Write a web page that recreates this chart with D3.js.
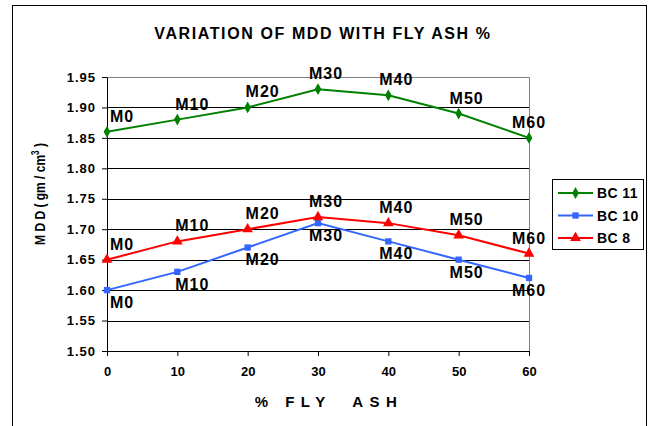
<!DOCTYPE html>
<html>
<head>
<meta charset="utf-8">
<script src="https://cdn.jsdelivr.net/npm/d3@7"></script>
<style>
  body { margin: 0; background: #fff; }
  text { font-family: "Liberation Sans", Arial, sans-serif; font-weight: bold; fill: #000; }
</style>
</head>
<body>
<div id="chart"></div>
<script>
// data
const flyAsh = [0, 10, 20, 30, 40, 50, 60];
const mixLabels = ["M0", "M10", "M20", "M30", "M40", "M50", "M60"];
const bc11 = [1.86, 1.88, 1.90, 1.93, 1.92, 1.89, 1.85];
const bc10 = [1.60, 1.63, 1.67, 1.71, 1.68, 1.65, 1.62];
const bc8 = [1.65, 1.68, 1.70, 1.72, 1.71, 1.69, 1.66];
const yTicks = [1.50, 1.55, 1.60, 1.65, 1.70, 1.75, 1.80, 1.85, 1.90, 1.95];

const series = [
    {name: "BC 11", values: bc11, color: "#008000", symbol: d3.symbolDiamond, size: 40, labelPos: "above"},
    {name: "BC 10", values: bc10, color: "#3366ff", symbol: d3.symbolSquare, size: 40, labelPos: "below"},
    {name: "BC 8", values: bc8, color: "#ff0000", symbol: d3.symbolTriangle, size: 50, labelPos: "above"}
];

const W = 649, H = 426;
const margin = {top: 77, left: 107};
const width = 422, height = 274;

const svg = d3.select("#chart").append("svg")
    .attr("width", W)
    .attr("height", H);

// outer chart frame (bottom edge runs off the picture)
svg.append("rect")
    .attr("x", 12.5).attr("y", 5.5)
    .attr("width", 634).attr("height", 440)
    .attr("fill", "none").attr("stroke", "#000").attr("stroke-width", 1);

svg.append("text")
    .attr("x", 323).attr("y", 39)
    .attr("text-anchor", "middle")
    .attr("font-size", 16)
    .attr("letter-spacing", 1.6)
    .text("VARIATION OF MDD WITH FLY ASH %");

const g = svg.append("g")
    .attr("transform", "translate(" + margin.left + "," + margin.top + ")");

const x = d3.scaleLinear().domain([0, 60]).range([0, width]);
const y = d3.scaleLinear().domain([1.5, 1.95]).range([height, 0]);

// gridlines
g.selectAll(".grid")
    .data(yTicks.filter(t => t > 1.5 && t < 1.95))
    .enter().append("line")
    .attr("x1", 0).attr("x2", width)
    .attr("y1", d => Math.round(y(d)) + 0.5)
    .attr("y2", d => Math.round(y(d)) + 0.5)
    .attr("stroke", "#000");

// plot border top/right in grey
g.append("path")
    .attr("d", "M0,0.5H" + (width + 0.5) + "V" + height)
    .attr("fill", "none").attr("stroke", "#808080");

const yAxis = d3.axisLeft(y).tickValues(yTicks).tickFormat(d3.format(".2f"))
    .tickSize(5).tickPadding(6).tickSizeOuter(0);
const xAxis = d3.axisBottom(x).tickValues(flyAsh)
    .tickSize(5).tickPadding(11).tickSizeOuter(0);

const ya = g.append("g").call(yAxis);
const xa = g.append("g").attr("transform", "translate(0," + height + ")").call(xAxis);

[ya, xa].forEach(a => {
    a.select(".domain").attr("stroke", "#000");
    a.selectAll(".tick line").attr("stroke", "#000");
    a.selectAll("text")
        .attr("font-family", "Liberation Sans, Arial, sans-serif")
        .attr("font-weight", "bold")
        .attr("font-size", 13)
        .attr("fill", "#000");
});
ya.selectAll("text").attr("letter-spacing", 1);

// axis titles
svg.append("text")
    .attr("x", 329).attr("y", 407)
    .attr("text-anchor", "middle")
    .attr("font-size", 15)
    .attr("letter-spacing", 6.5)
    .attr("xml:space", "preserve")
    .text("% FLY  ASH");

const yTitle = svg.append("text")
    .attr("transform", "translate(45,194) scale(1.25,1) rotate(-90)")
    .attr("text-anchor", "middle")
    .attr("font-size", 12);
yTitle.append("tspan").text("M D D  ( gm / cm");
yTitle.append("tspan").attr("font-size", 8).attr("dy", -5).text("3");
yTitle.append("tspan").attr("dy", 5).text(" )");

const line = d3.line()
    .x((d, i) => x(flyAsh[i]))
    .y(d => y(d));

series.forEach(s => {
    g.append("path")
        .datum(s.values)
        .attr("d", line)
        .attr("fill", "none")
        .attr("stroke", s.color)
        .attr("stroke-width", 2);

    g.selectAll(null)
        .data(s.values)
        .enter().append("path")
        .attr("d", d3.symbol().type(s.symbol).size(s.size))
        .attr("transform", (d, i) => "translate(" + x(flyAsh[i]) + "," + y(d) + ")")
        .attr("fill", s.color);

    const last = s.values.length - 1;
    g.selectAll(null)
        .data(s.values)
        .enter().append("text")
        .attr("x", (d, i) => x(flyAsh[i]) + (i === last ? 0 : i < 3 ? 15 : 8))
        .attr("y", d => y(d) + (s.labelPos === "above" ? -10 : 18))
        .attr("text-anchor", "middle")
        .attr("font-size", 16)
        .attr("letter-spacing", 1)
        .text((d, i) => mixLabels[i]);
});

// legend
const legend = svg.append("g").attr("transform", "translate(552,179)");
legend.append("rect")
    .attr("x", 0.5).attr("y", 0.5)
    .attr("width", 91).attr("height", 70)
    .attr("fill", "#fff").attr("stroke", "#000");

series.forEach((s, i) => {
    const ly = 14 + i * 22.5;
    legend.append("line")
        .attr("x1", 6).attr("x2", 41)
        .attr("y1", ly).attr("y2", ly)
        .attr("stroke", s.color).attr("stroke-width", 2);
    legend.append("path")
        .attr("d", d3.symbol().type(s.symbol).size(s.size))
        .attr("transform", "translate(23.5," + ly + ")")
        .attr("fill", s.color);
    legend.append("text")
        .attr("x", 45).attr("y", ly + 5)
        .attr("font-size", 14)
        .attr("letter-spacing", 0.4)
        .text(s.name);
});
</script>
</body>
</html>
